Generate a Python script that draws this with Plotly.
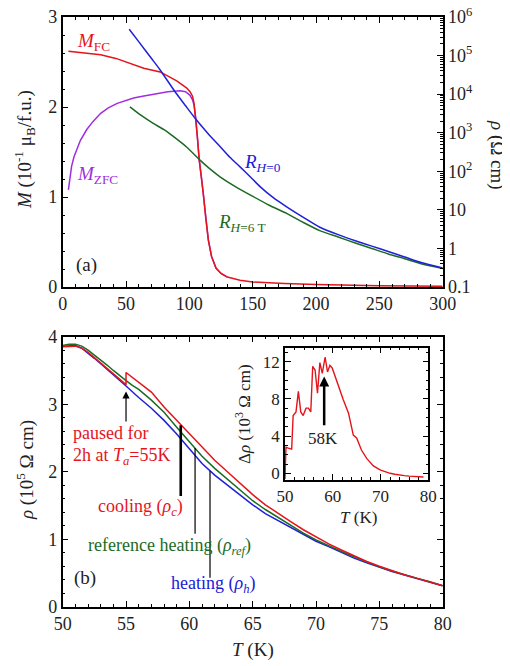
import plotly.graph_objects as go

W, H = 510, 666
OFF = 8  # page body margin offset
def px(x): return (x - OFF) / W
def py(y): return 1 - (y - OFF) / H

FONT = "Times New Roman, Liberation Serif, serif"
RED = "#e5141c"
PURPLE = "#a02ee0"
BLUE = "#2020d8"
GREEN = "#1c6b24"

# ---------------- panel (a) data ----------------
T_fc = [4.5, 10, 20, 30, 42, 55, 64, 77, 85, 90, 95, 98, 100.5, 102.5, 103.7, 105.2, 106.3,
        107.8, 109.5, 111, 113, 115, 117.5, 121, 125, 130, 140, 150, 175, 200, 250, 300]
M_fc = [2.62, 2.61, 2.60, 2.58, 2.54, 2.48, 2.43, 2.39, 2.33, 2.29, 2.24, 2.21, 2.17, 2.12,
        2.04, 1.86, 1.67, 1.41, 1.22, 1.04, 0.76, 0.52, 0.34, 0.21, 0.15, 0.11, 0.075, 0.055,
        0.04, 0.028, 0.015, 0.008]

T_zfc = [4.5, 5.5, 7, 9, 11, 14, 19, 24, 30, 36, 43, 50, 56, 63, 70, 77, 83, 92.6, 97,
         100.5, 102.5, 103.7, 105.2, 106.3, 107.8, 109.5, 111, 113, 115, 117.5, 121, 125, 130]
M_zfc = [1.08, 1.20, 1.34, 1.45, 1.53, 1.63, 1.75, 1.84, 1.93, 1.99, 2.04, 2.07, 2.10, 2.12,
         2.14, 2.16, 2.17, 2.18, 2.17, 2.13, 2.08, 2.02, 1.86, 1.67, 1.41, 1.22, 1.04, 0.76,
         0.52, 0.34, 0.21, 0.15, 0.11]

T_r0 = [52.5, 60, 70, 76.8, 88.7, 97, 105.8, 115, 124.2, 132, 140, 148, 155.8, 166, 176.8,
        190, 203, 218, 231, 244, 257, 270, 283, 300]
R_0 = [4.8e5, 2.3e5, 8.5e4, 4.3e4, 1.15e4, 5.0e3, 2.1e3, 930, 440, 230, 130, 72, 40, 21,
       12, 6.4, 3.55, 2.24, 1.58, 1.15, 0.83, 0.60, 0.43, 0.31]

T_r6 = [53.1, 62, 71.5, 80, 87.3, 98, 108.4, 116, 124.2, 137, 150.5, 163, 176.8, 190, 203,
        218, 231, 244, 257, 270, 283, 300]
R_6 = [4700, 2800, 1740, 1200, 800, 420, 195, 117, 72, 39, 22, 13.2, 8.1, 4.7, 2.9, 1.95,
       1.38, 1.0, 0.72, 0.54, 0.40, 0.30]

# ---------------- panel (b) data ----------------
T_h = [50, 50.5, 51, 51.5, 52, 52.5, 53, 53.5, 54, 54.5, 55, 56, 57, 58, 59, 60, 61, 62,
       63, 64, 65, 66, 67, 68, 69, 70, 71, 72, 73, 74, 75, 76, 77, 78, 79, 80]
rho_h = [3.86, 3.87, 3.87, 3.83, 3.76, 3.68, 3.60, 3.52, 3.43, 3.35, 3.27, 3.10, 2.94,
         2.76, 2.56, 2.34, 2.12, 1.95, 1.80, 1.65, 1.51, 1.38, 1.28, 1.17, 1.07, 0.97,
         0.89, 0.80, 0.72, 0.65, 0.58, 0.52, 0.47, 0.41, 0.36, 0.31]

T_ref = [50, 50.5, 51, 51.5, 52, 52.5, 53, 53.5, 54, 54.5, 55, 55.5, 56, 57, 58, 59, 60,
         61, 62, 63, 64, 65, 66, 67, 68, 69, 70, 71, 72, 73, 74, 75, 76, 77, 78, 79, 80]
rho_ref = [3.87, 3.89, 3.89, 3.86, 3.80, 3.73, 3.66, 3.58, 3.50, 3.42, 3.35, 3.28, 3.22,
           3.06, 2.88, 2.66, 2.44, 2.23, 2.05, 1.89, 1.73, 1.57, 1.44, 1.32, 1.20, 1.09,
           0.99, 0.90, 0.82, 0.74, 0.66, 0.59, 0.53, 0.47, 0.42, 0.37, 0.31]

T_c = [50, 50.5, 51, 51.5, 52, 52.5, 53, 53.5, 54, 54.5, 55, 55, 55.5, 56, 56.5, 57, 58,
       59, 60, 61, 62, 63, 64, 65, 66, 67, 68, 69, 70, 71, 72, 73, 74, 75, 76, 77, 78, 79, 80]
rho_c = [3.85, 3.86, 3.86, 3.83, 3.77, 3.69, 3.61, 3.53, 3.45, 3.37, 3.29, 3.47, 3.40,
         3.33, 3.26, 3.18, 2.96, 2.76, 2.56, 2.36, 2.17, 2.00, 1.83, 1.66, 1.51, 1.38,
         1.26, 1.14, 1.03, 0.93, 0.84, 0.75, 0.67, 0.60, 0.53, 0.47, 0.42, 0.36, 0.31]

# inset: delta rho (10^3 Ohm cm)
T_d = [50, 50.2, 50.7, 51.4, 51.7, 52.3, 52.8, 53.3, 53.8, 54.4, 54.9, 55.4, 55.8, 56.3,
       56.8, 57.3, 57.8, 58.4, 58.9, 59.4, 59.9, 60.5, 61.2, 62.2, 63.3, 64.3, 65.0, 66.0,
       67.1, 68.5, 69.9, 71, 72, 73, 74, 75, 76, 77, 78, 79]
d_rho = [-0.6, 2.8, 2.7, 2.6, 6.2, 6.6, 8.8, 6.6, 6.2, 7.0, 7.0, 6.6, 11.5, 11.1, 8.6,
         11.9, 10.75, 12.5, 10.9, 11.6, 11.3, 10.4, 9.3, 7.9, 6.45, 4.1, 3.8, 2.5, 1.6,
         0.8, 0.36, 0.15, 0.0, -0.1, -0.2, -0.25, -0.3, -0.35, -0.35, -0.4]

# markers for the annotation lines (T, rho_top, rho_bottom)
mark_c = (59.32, 2.69, 1.64)
mark_ref = (60.45, 2.35, 1.08)
mark_h = (61.63, 2.01, 0.43)

fig = go.Figure()
lw = 1.5
fig.add_trace(go.Scatter(x=T_zfc, y=M_zfc, mode="lines", line=dict(color=PURPLE, width=lw), xaxis="x", yaxis="y"))
fig.add_trace(go.Scatter(x=T_fc, y=M_fc, mode="lines", line=dict(color=RED, width=lw), xaxis="x", yaxis="y"))
fig.add_trace(go.Scatter(x=T_r6, y=R_6, mode="lines", line=dict(color=GREEN, width=lw, shape="spline", smoothing=0.6), xaxis="x", yaxis="y2"))
fig.add_trace(go.Scatter(x=T_r0, y=R_0, mode="lines", line=dict(color=BLUE, width=lw, shape="spline", smoothing=0.6), xaxis="x", yaxis="y2"))

fig.add_trace(go.Scatter(x=T_h, y=rho_h, mode="lines", line=dict(color=BLUE, width=lw), xaxis="x3", yaxis="y3"))
fig.add_trace(go.Scatter(x=T_ref, y=rho_ref, mode="lines", line=dict(color=GREEN, width=lw), xaxis="x3", yaxis="y3"))
fig.add_trace(go.Scatter(x=T_c, y=rho_c, mode="lines", line=dict(color=RED, width=lw), xaxis="x3", yaxis="y3"))
for (t, a, b), w in ((mark_c, 2.6), (mark_ref, 1.2), (mark_h, 1.2)):
    fig.add_trace(go.Scatter(x=[t, t], y=[a, b], mode="lines", line=dict(color="black", width=w), xaxis="x3", yaxis="y3"))

fig.add_trace(go.Scatter(x=T_d, y=d_rho, mode="lines", line=dict(color=RED, width=1.4), xaxis="x4", yaxis="y4"))

tickfont = dict(family=FONT, size=18, color="#222")
axcommon = dict(showline=True, linecolor="black", linewidth=1.5, ticks="inside", ticklen=6,
                tickcolor="black", tickwidth=1, showgrid=False, zeroline=False, tickfont=tickfont,
                automargin=False, ticklabeloverflow="allow")

xd = [px(62.7), px(442.7)]
fig.update_layout(
    template="none",
    width=W, height=H, margin=dict(l=0, r=0, t=0, b=0, pad=0), autosize=False,
    paper_bgcolor="white", plot_bgcolor="white", showlegend=False,
    font=dict(family=FONT, size=18, color="#222"),
    xaxis=dict(domain=xd, range=[0, 300], anchor="y", tickvals=[0, 50, 100, 150, 200, 250, 300],
               mirror="ticks", minor=dict(dtick=10, ticks="inside", ticklen=3, tickcolor="black"), **axcommon),
    yaxis=dict(domain=[py(287), py(17)], range=[0, 3], anchor="x", tickvals=[0, 1, 2, 3],
               minor=dict(dtick=0.2, ticks="inside", ticklen=3, tickcolor="black"), **axcommon),
    yaxis2=dict(overlaying="y", side="right", anchor="x", type="log", range=[-1, 6],
                tickmode="array", tickvals=[0.1, 1, 10, 100, 1e3, 1e4, 1e5, 1e6],
                ticktext=["0.1", "1", "10", "10<sup>2</sup>", "10<sup>3</sup>", "10<sup>4</sup>", "10<sup>5</sup>", "10<sup>6</sup>"],
                minor=dict(dtick="D1", ticks="inside", ticklen=3, tickcolor="black"), **axcommon),
    xaxis3=dict(domain=xd, range=[50, 80], anchor="y3", dtick=5, mirror="allticks",
                minor=dict(dtick=1, ticks="inside", ticklen=3, tickcolor="black"), **axcommon),
    yaxis3=dict(domain=[py(606.7), py(336.7)], range=[0, 4], anchor="x3", dtick=1, mirror="allticks",
                minor=dict(dtick=0.2, ticks="inside", ticklen=3, tickcolor="black"), **axcommon),
)
inset_font = dict(family=FONT, size=17, color="#222")
ax_in = dict(axcommon)
ax_in["tickfont"] = inset_font
fig.update_layout(
    xaxis4=dict(domain=[px(285), px(428.3)], range=[50, 80], anchor="y4", dtick=10, mirror="allticks",
                minor=dict(dtick=2, ticks="inside", ticklen=3, tickcolor="black"), **ax_in),
    yaxis4=dict(domain=[py(480), py(347.7)], range=[-0.72, 13.5], anchor="x4", dtick=4, mirror="allticks",
                minor=dict(dtick=1, ticks="inside", ticklen=3, tickcolor="black"), **ax_in),
)

def txt(text, x, y, size=19, color="#222", angle=0, xanchor="center"):
    fig.add_annotation(text=text, x=px(x), y=py(y), xref="paper", yref="paper", showarrow=False,
                       textangle=angle, xanchor=xanchor, yanchor="middle",
                       font=dict(family=FONT, size=size, color=color))

# axis titles
txt("<i>M</i> (10<sup>-1</sup> μ<sub>B</sub>/f.u.)", 25, 150, angle=-90)
txt("<i>ρ</i> (Ω cm)", 497, 155, angle=90)
txt("<i>ρ</i> (10<sup>5</sup> Ω cm)", 25, 470, angle=-90)
txt("<i>T</i> (K)", 253, 650)
txt("Δ<i>ρ</i> (10<sup>3</sup> Ω cm)", 243, 414, size=17, angle=-90)
txt("<i>T</i> (K)", 358, 518, size=17)

# panel labels
txt("(a)", 86, 265)
txt("(b)", 85, 578)

# curve labels
txt("<i>M</i><sub>FC</sub>", 75, 42, color=RED, xanchor="left")
txt("<i>M</i><sub>ZFC</sub>", 75, 175, color=PURPLE, xanchor="left")
txt("<i>R</i><sub><i>H</i>=0</sub>", 242, 163, color=BLUE, xanchor="left")
txt("<i>R</i><sub><i>H</i>=6 T</sub>", 216, 223, color=GREEN, xanchor="left")

txt("paused for", 71, 433, size=18, color=RED, xanchor="left")
txt("2h at <i>T</i><sub><i>a</i></sub>=55K", 71, 456, size=18, color=RED, xanchor="left")
txt("cooling (<i>ρ</i><sub><i>c</i></sub>)", 96, 508, size=18, color=RED, xanchor="left")
txt("reference heating (<i>ρ</i><sub><i>ref</i></sub>)", 86, 546, size=18, color=GREEN, xanchor="left")
txt("heating (<i>ρ</i><sub><i>h</i></sub>)", 169, 584, size=18, color=BLUE, xanchor="left")
txt("58K", 323, 438, size=17)

# arrows
fig.add_annotation(x=55, y=3.19, ax=55, ay=2.72, xref="x3", yref="y3", axref="x3", ayref="y3",
                   showarrow=True, arrowhead=2, arrowsize=1.2, arrowwidth=1.2, arrowcolor="black", text="")
fig.add_annotation(x=58.2, y=10.4, ax=58.2, ay=5.0, xref="x4", yref="y4", axref="x4", ayref="y4",
                   showarrow=True, arrowhead=2, arrowsize=0.8, arrowwidth=2.5, arrowcolor="black", text="")

fig.write_html("out.html")
